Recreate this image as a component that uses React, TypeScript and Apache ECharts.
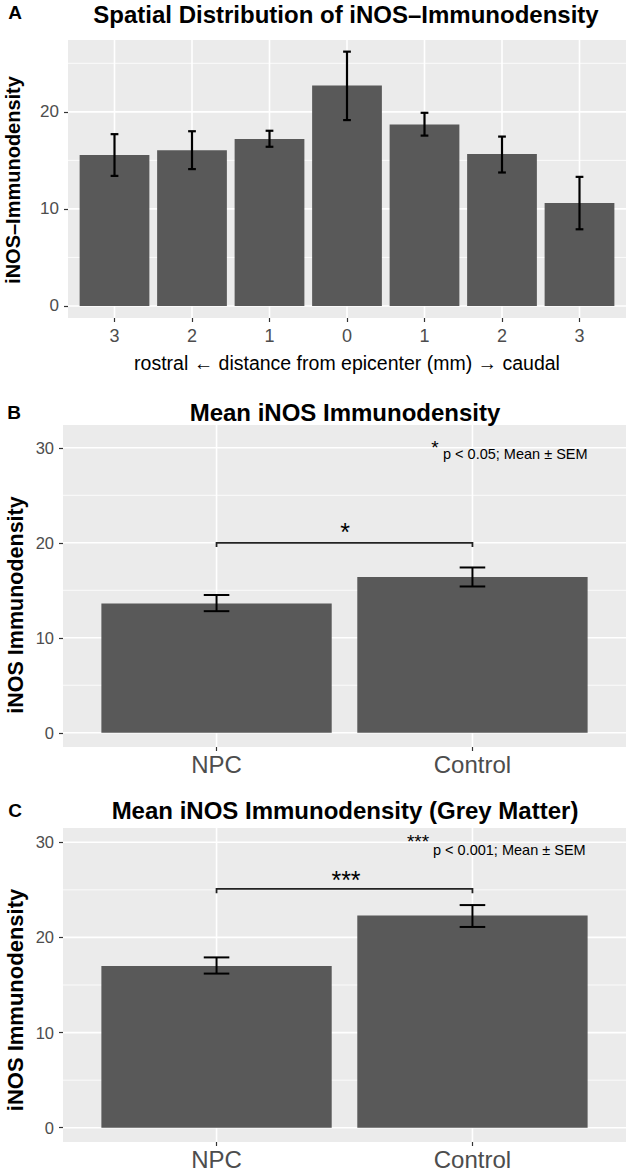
import React, { useEffect, useRef } from "react";
import * as echarts from "echarts";

// ---------- data ----------
const catsA = ["3", "2", "1", "0", "1", "2", "3"];
const meanA = [15.55, 16.05, 17.2, 22.7, 18.7, 15.65, 10.6];
const lowA = [13.4, 14.1, 16.4, 19.15, 17.55, 13.75, 7.9];
const highA = [17.7, 18.0, 18.05, 26.2, 19.9, 17.45, 13.3];

const catsBC = ["NPC", "Control"];
const meanB = [13.6, 16.4];
const lowB = [12.8, 15.4];
const highB = [14.5, 17.4];

const meanC = [17.0, 22.3];
const lowC = [16.2, 21.1];
const highC = [17.9, 23.4];

const yTicksA = [0, 10, 20];
const yMinorA = [5, 15, 25];
const yTicksBC = [0, 10, 20, 30];
const yMinorBC = [5, 15, 25];

const bracketLevelB = 20;
const bracketLevelC = 25.1;

// ---------- styling ----------
const FONT = '"Liberation Sans", Arial, Helvetica, sans-serif';
const PANEL_BG = "#EBEBEB";
const BAR = "#595959";
const TICK_TXT = "#4D4D4D";

type PanelCfg = {
  idx: number;
  cats: string[];
  means: number[];
  lows: number[];
  highs: number[];
  yMin: number;
  yMax: number;
  ticks: number[];
  minors: number[];
  grid: { left: number; top: number; width: number; height: number };
  yFont: number;
  xFont: number;
  xMargin: number;
  errLW: number;
  bracket?: number;
};

function buildPanel(c: PanelCfg) {
  const xs = c.cats.map((_, i) => i);
  const grid = {
    left: c.grid.left,
    top: c.grid.top,
    width: c.grid.width,
    height: c.grid.height,
    show: true,
    backgroundColor: PANEL_BG,
    borderWidth: 0,
    containLabel: false,
  };
  const xAxis = {
    gridIndex: c.idx,
    type: "value",
    min: -0.6,
    max: c.cats.length - 1 + 0.6,
    axisLine: { show: false, onZero: false },
    splitLine: { show: false },
    axisTick: {
      show: true,
      customValues: xs,
      length: 4,
      lineStyle: { color: "#333333", width: 1.2 },
    },
    axisLabel: {
      show: true,
      customValues: xs,
      formatter: (v: number) => c.cats[Math.round(v)] ?? "",
      color: TICK_TXT,
      fontSize: c.xFont,
      fontFamily: FONT,
      margin: c.xMargin,
    },
  };
  const yAxis = {
    gridIndex: c.idx,
    type: "value",
    min: c.yMin,
    max: c.yMax,
    axisLine: { show: false, onZero: false },
    splitLine: { show: false },
    axisTick: {
      show: true,
      customValues: c.ticks,
      length: 4,
      lineStyle: { color: "#333333", width: 1.2 },
    },
    axisLabel: {
      show: true,
      customValues: c.ticks,
      formatter: (v: number) => String(v),
      color: TICK_TXT,
      fontSize: c.yFont,
      fontFamily: FONT,
      margin: 9,
    },
  };

  const hLine = (width: number) => (params: any, api: any) => {
    const cs = params.coordSys;
    const p = api.coord([0, api.value(0)]);
    return {
      type: "line",
      shape: { x1: cs.x, y1: p[1], x2: cs.x + cs.width, y2: p[1] },
      style: { stroke: "#FFFFFF", lineWidth: width },
      silent: true,
    };
  };

  const series: any[] = [
    {
      type: "custom",
      xAxisIndex: c.idx,
      yAxisIndex: c.idx,
      z: 1,
      silent: true,
      data: c.minors.map((v) => [v]),
      renderItem: hLine(0.8),
    },
    {
      type: "custom",
      xAxisIndex: c.idx,
      yAxisIndex: c.idx,
      z: 1,
      silent: true,
      data: c.ticks.map((v) => [v]),
      renderItem: hLine(1.6),
    },
    {
      type: "custom",
      xAxisIndex: c.idx,
      yAxisIndex: c.idx,
      z: 1,
      silent: true,
      data: xs.map((v) => [v]),
      renderItem: (params: any, api: any) => {
        const cs = params.coordSys;
        const p = api.coord([api.value(0), 0]);
        return {
          type: "line",
          shape: { x1: p[0], y1: cs.y, x2: p[0], y2: cs.y + cs.height },
          style: { stroke: "#FFFFFF", lineWidth: 1.6 },
          silent: true,
        };
      },
    },
    {
      type: "custom",
      xAxisIndex: c.idx,
      yAxisIndex: c.idx,
      z: 2,
      data: c.means.map((m, i) => [i, m]),
      renderItem: (_p: any, api: any) => {
        const x = api.value(0);
        const v = api.value(1);
        const top = api.coord([x, v]);
        const base = api.coord([x, 0]);
        const w = api.size([0.9, 0])[0];
        return {
          type: "rect",
          shape: { x: top[0] - w / 2, y: top[1], width: w, height: base[1] - top[1] },
          style: { fill: BAR },
        };
      },
    },
    {
      type: "custom",
      xAxisIndex: c.idx,
      yAxisIndex: c.idx,
      z: 3,
      data: c.means.map((_, i) => [i, c.lows[i], c.highs[i]]),
      renderItem: (_p: any, api: any) => {
        const x = api.value(0);
        const lo = api.coord([x, api.value(1)]);
        const hi = api.coord([x, api.value(2)]);
        const hw = api.size([0.1, 0])[0] / 2;
        const st = { stroke: "#000000", lineWidth: c.errLW };
        return {
          type: "group",
          children: [
            { type: "line", shape: { x1: lo[0], y1: lo[1], x2: hi[0], y2: hi[1] }, style: st },
            { type: "line", shape: { x1: hi[0] - hw, y1: hi[1], x2: hi[0] + hw, y2: hi[1] }, style: st },
            { type: "line", shape: { x1: lo[0] - hw, y1: lo[1], x2: lo[0] + hw, y2: lo[1] }, style: st },
          ],
        };
      },
    },
  ];

  if (c.bracket !== undefined) {
    series.push({
      type: "custom",
      xAxisIndex: c.idx,
      yAxisIndex: c.idx,
      z: 3,
      data: [[0, 1, c.bracket]],
      renderItem: (_p: any, api: any) => {
        const x1 = api.value(0);
        const x2 = api.value(1);
        const y = api.value(2);
        const drop = 0.45;
        const a = api.coord([x1, y - drop]);
        const b = api.coord([x1, y]);
        const d = api.coord([x2, y]);
        const e = api.coord([x2, y - drop]);
        return {
          type: "polyline",
          shape: { points: [a, b, d, e] },
          style: { stroke: "#222222", lineWidth: 1.8, fill: null },
        };
      },
    });
  }
  return { grid, xAxis, yAxis, series };
}

function text(
  t: string,
  x: number,
  y: number,
  size: number,
  opts: { bold?: boolean; align?: string; rotate?: boolean; color?: string } = {}
) {
  return {
    type: "text",
    x,
    y,
    rotation: opts.rotate ? Math.PI / 2 : 0,
    z: 10,
    style: {
      text: t,
      fontSize: size,
      fontWeight: opts.bold ? "bold" : "normal",
      fontFamily: FONT,
      fill: opts.color ?? "#000000",
      align: opts.align ?? "center",
      verticalAlign: "middle",
    },
  };
}

export default function App() {
  const ref = useRef<HTMLDivElement>(null);

  useEffect(() => {
    if (!ref.current) return;
    const chart = echarts.init(ref.current, undefined, { renderer: "svg" });

    const pA = buildPanel({
      idx: 0,
      cats: catsA,
      means: meanA,
      lows: lowA,
      highs: highA,
      yMin: -1.24,
      yMax: 27.4,
      ticks: yTicksA,
      minors: yMinorA,
      grid: { left: 68, top: 40, width: 558, height: 278 },
      yFont: 17,
      xFont: 18,
      xMargin: 9,
      errLW: 2.2,
    });
    const pB = buildPanel({
      idx: 1,
      cats: catsBC,
      means: meanB,
      lows: lowB,
      highs: highB,
      yMin: -1.5,
      yMax: 32.4,
      ticks: yTicksBC,
      minors: yMinorBC,
      grid: { left: 63, top: 425, width: 563, height: 322 },
      yFont: 16.5,
      xFont: 24,
      xMargin: 5,
      errLW: 2,
      bracket: bracketLevelB,
    });
    const pC = buildPanel({
      idx: 2,
      cats: catsBC,
      means: meanC,
      lows: lowC,
      highs: highC,
      yMin: -1.5,
      yMax: 31.5,
      ticks: yTicksBC,
      minors: yMinorBC,
      grid: { left: 63, top: 828, width: 563, height: 314 },
      yFont: 16.5,
      xFont: 24,
      xMargin: 5,
      errLW: 2,
      bracket: bracketLevelC,
    });

    const graphic = [
      text("A", 15, 12.5, 19, { bold: true }),
      text("Spatial Distribution of iNOS\u2013Immunodensity", 346, 14, 24, { bold: true }),
      text("iNOS\u2013Immunodensity", 13, 180, 20, { bold: true, rotate: true }),
      text("rostral \u2190 distance from epicenter (mm) \u2192 caudal", 347, 363, 19.5, { color: "#000000" }),

      text("B", 14, 412.5, 19, { bold: true }),
      text("Mean iNOS Immunodensity", 345, 412, 24, { bold: true }),
      text("iNOS Immunodensity", 16, 605, 21.5, { bold: true, rotate: true }),
      text("*", 435, 447, 19),
      text("p < 0.05; Mean \u00b1 SEM", 443, 454, 14.5, { align: "left" }),
      text("*", 345, 532, 25),

      text("C", 15, 810.5, 19, { bold: true }),
      text("Mean iNOS Immunodensity (Grey Matter)", 345, 810, 24, { bold: true }),
      text("iNOS Immunodensity", 15, 1000, 22, { bold: true, rotate: true }),
      text("***", 418, 841, 19),
      text("p < 0.001; Mean \u00b1 SEM", 433, 849.5, 14.5, { align: "left" }),
      text("***", 346, 880, 25),
    ];

    chart.setOption({
      animation: false,
      backgroundColor: "#FFFFFF",
      grid: [pA.grid, pB.grid, pC.grid],
      xAxis: [pA.xAxis, pB.xAxis, pC.xAxis],
      yAxis: [pA.yAxis, pB.yAxis, pC.yAxis],
      series: [...pA.series, ...pB.series, ...pC.series],
      graphic,
    });

    return () => chart.dispose();
  }, []);

  return (
    <div
      ref={ref}
      style={{ position: "fixed", left: 0, top: 0, width: 630, height: 1175 }}
    />
  );
}
